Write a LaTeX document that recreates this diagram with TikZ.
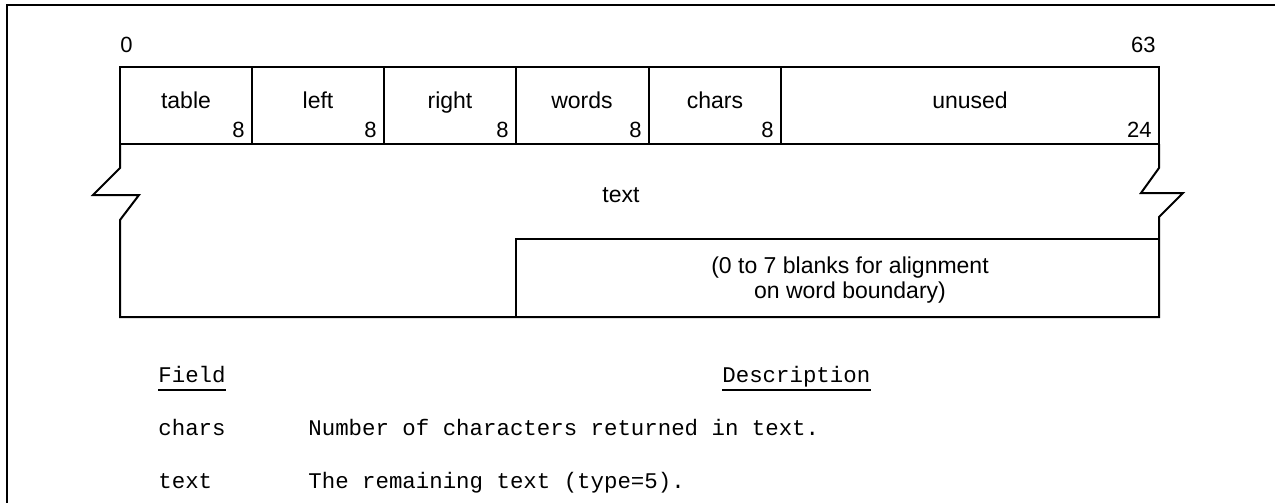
\documentclass[tikz,border=0pt]{standalone}
\usepackage{fontspec}
\setmainfont{Liberation Sans}
\setmonofont{Liberation Mono}

\begin{document}
\begin{tikzpicture}[x=0.5pt,y=-0.5pt,
  rec/.style={line width=1pt},
  fname/.style={anchor=base,inner sep=0pt,font=\fontsize{11.5}{12}\selectfont},
  bits/.style={anchor=base east,inner sep=0pt,font=\fontsize{11}{12}\selectfont},
  mono/.style={anchor=base west,inner sep=0pt,font=\fontsize{11.2}{13}\selectfont\ttfamily}]
\useasboundingbox (0,0) rectangle (1275,503);
% frame
\draw [line width=0.8pt] (7,503) -- (7,5) -- (1275,5);
% bit positions
\node [bits,anchor=base west] (lo) at (120,53) {0};
\node [bits] (hi) at (1156,53) {63};
% first word
\draw [rec] (120,67) rectangle (1159,144);
\foreach \x in {252,384,516,649,781}
  \draw [rec] (\x,67) -- (\x,144);
\foreach \c/\r/\name/\w [count=\i] in {186/252/table/8, 318/384/left/8, 450/516/right/8, 582/649/words/8, 715/781/chars/8, 970/1159/unused/24}
{
  \node [fname] (f\i) at (\c,108) {\name};
  \node [bits] (b\i) at (\r-7,137) {\w};
}
% text part, broken on both sides
\draw [rec] (120,144) -- (120,168) -- (93,195) -- (139,195) -- (120,220) -- (120,317)
  -- (1159,317) -- (1159,217) -- (1183,193) -- (1141,193) -- (1159,168) -- (1159,144);
\node [fname] (txt) at (621,202) {text};
\draw [rec] (516,317) -- (516,239) -- (1159,239);
\node [fname,anchor=center,align=center,font=\fontsize{11.5}{12.5}\selectfont] (pad) at (850,280)
  {(0 to 7 blanks for alignment\\on word boundary)};
% field table
\node [mono] (fld) at (158,382) {Field};
\node [mono] (dsc) at (722,382) {Description};
\draw [line width=1pt] ([yshift=-4pt]fld.base west) -- ([yshift=-4pt]fld.base east);
\draw [line width=1pt] ([yshift=-4pt]dsc.base west) -- ([yshift=-4pt]dsc.base east);
\node [mono] (n1) at (158,435) {chars};
\node [mono] (d1) at (308,435) {Number of characters returned in text.};
\node [mono] (n2) at (158,488) {text};
\node [mono] (d2) at (308,488) {The remaining text (type=5).};
\end{tikzpicture}
\end{document}
